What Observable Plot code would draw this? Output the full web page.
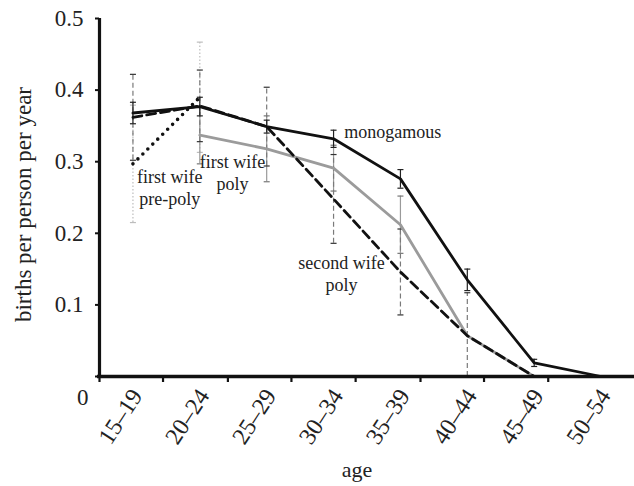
<!DOCTYPE html>
<html>
<head>
<meta charset="utf-8">
<script src="https://cdn.jsdelivr.net/npm/d3@7"></script>
<script src="https://cdn.jsdelivr.net/npm/@observablehq/plot@0.6"></script>
<style>
  html, body { margin: 0; padding: 0; background: #fff; }
  svg, svg text, svg g { font-family: "Liberation Serif", "DejaVu Serif", serif !important; }
</style>
</head>
<body>
<div id="chart"></div>
<script>
const ages = ["15–19","20–24","25–29","30–34","35–39","40–44","45–49","50–54"];
const yTicks = [0, 0.1, 0.2, 0.3, 0.4, 0.5];
const xTickPos = [-0.5, 0.45, 1.42, 2.37, 3.33, 4.3, 5.25, 6.21];

const mono        = [0.368, 0.377, 0.349, 0.332, 0.276, 0.135, 0.019, 0];
const monoErr     = [0.015, 0.013, 0.009, 0.012, 0.013, 0.015, 0.005, null];
const firstPoly   = [null, 0.337, 0.318, 0.291, 0.212, 0.057, 0, null];
const firstPolyErr= [null, 0.040, 0.046, 0.032, 0.040, null, null, null];
const secondPoly  = [0.362, 0.378, 0.349, 0.248, 0.146, 0.057, 0, null];
const secondPolyErr=[0.060, 0.050, 0.055, 0.062, 0.060, 0.060, null, null];
const prePoly     = [0.297, 0.390, null, null, null, null, null, null];
const prePolyErr  = [0.082, 0.077, null, null, null, null, null, null];

const startLabels = [
  {x: 3.16, y: 0.341, text: "monogamous"}
];
const centerLabels = [
  {x: 0.55, y: 0.265, text: "first wife\npre-poly"},
  {x: 1.49, y: 0.286, text: "first wife\npoly"},
  {x: 3.12, y: 0.145, text: "second wife\npoly"}
];

const FONT = "Liberation Serif";

function rows(vals) {
  return vals.map((v, i) => ({i, v})).filter(d => d.v != null);
}
function errRows(vals, errs) {
  return vals.map((v, i) => ({i, v, e: errs[i]})).filter(d => d.v != null && d.e != null)
    .map(d => ({i: d.i, lo: Math.max(0, d.v - d.e), hi: d.v + d.e}));
}
function capRows(er) {
  const out = [];
  er.forEach(d => { out.push({i: d.i, y: d.hi}); if (d.lo > 0) out.push({i: d.i, y: d.lo}); });
  return out;
}
const capW = 0.045;
function bars(vals, errs, stroke, dash, capStroke) {
  const er = errRows(vals, errs);
  const cr = capRows(er);
  return [
    Plot.ruleX(er, {x: "i", y1: "lo", y2: "hi", stroke, strokeWidth: 1.2, strokeDasharray: dash}),
    Plot.link(cr, {x1: d => d.i - capW, x2: d => d.i + capW, y1: "y", y2: "y", stroke: capStroke, strokeWidth: 1.2})
  ];
}

const chart = Plot.plot({
  width: 634,
  height: 486,
  marginLeft: 99,
  marginRight: 0,
  marginTop: 18,
  marginBottom: 110,
  style: {fontFamily: FONT, background: "#fff", overflow: "visible"},
  x: {type: "linear", domain: [-0.5, 7.5]},
  y: {domain: [0, 0.5]},
  marks: [
    // error bars
    ...bars(prePoly, prePolyErr, "#bdbdbd", "1.5,2", "#bdbdbd"),
    ...bars(firstPoly, firstPolyErr, "#9a9a9a", null, "#777"),
    ...bars(secondPoly, secondPolyErr, "#7a7a7a", "5,3", "#333"),
    ...bars(mono, monoErr, "#222", null, "#222"),
    // lines
    Plot.line(rows(firstPoly), {x: "i", y: "v", stroke: "#9b9b9b", strokeWidth: 2.8}),
    Plot.line(rows(secondPoly), {x: "i", y: "v", stroke: "#111", strokeWidth: 2.8, strokeDasharray: "9,5"}),
    Plot.line(rows(prePoly), {x: "i", y: "v", stroke: "#111", strokeWidth: 3.6, strokeDasharray: "0,7", strokeLinecap: "round"}),
    Plot.line(rows(mono), {x: "i", y: "v", stroke: "#111", strokeWidth: 2.8}),
    // axes
    Plot.axisY(yTicks, {tickSize: 4, tickPadding: 12, fontSize: 23, fontFamily: FONT, label: null,
      tickFormat: d => d === 0 ? "" : d3.format(".1f")(d), stroke: "#111", strokeWidth: 2, fill: "#222"}),
    Plot.axisX(xTickPos, {tickSize: 6, tickFormat: () => "", label: null, stroke: "#111", strokeWidth: 2.2}),
    Plot.ruleY([0], {stroke: "#111", strokeWidth: 3.4, x1: -0.53, x2: 7.5}),
    Plot.ruleX([-0.5], {stroke: "#111", strokeWidth: 3.2, y1: 0, y2: 0.5}),
    // x category labels
    Plot.text(ages, {x: (d, i) => i, y: () => 0, text: d => d, rotate: -57, textAnchor: "end",
      lineAnchor: "middle", dy: 15, dx: 4, fontSize: 24, fontFamily: FONT, fill: "#222"}),
    // zero label
    Plot.text(["0"], {frameAnchor: "bottom-left", text: d => d, textAnchor: "end", lineAnchor: "middle",
      dx: -11, dy: 21, fontSize: 23, fontFamily: FONT, fill: "#222"}),
    // axis titles
    Plot.text(["births per person per year"], {frameAnchor: "left", text: d => d, rotate: -90,
      textAnchor: "middle", lineAnchor: "middle", dx: -76, dy: 7, fontSize: 23, fontFamily: FONT, fill: "#222"}),
    Plot.text(["age"], {frameAnchor: "bottom", text: d => d, textAnchor: "middle", lineAnchor: "middle",
      dx: -10, dy: 93, fontSize: 22, fontFamily: FONT, fill: "#222"}),
    // annotations
    Plot.text(startLabels, {x: "x", y: "y", text: "text", textAnchor: "start", lineAnchor: "middle",
      fontSize: 18, fontFamily: FONT, fill: "#222"}),
    Plot.text(centerLabels, {x: "x", y: "y", text: "text", textAnchor: "middle", lineAnchor: "middle",
      fontSize: 18, lineHeight: 1.22, fontFamily: FONT, fill: "#222"})
  ]
});
document.getElementById("chart").appendChild(chart);
</script>
</body>
</html>
